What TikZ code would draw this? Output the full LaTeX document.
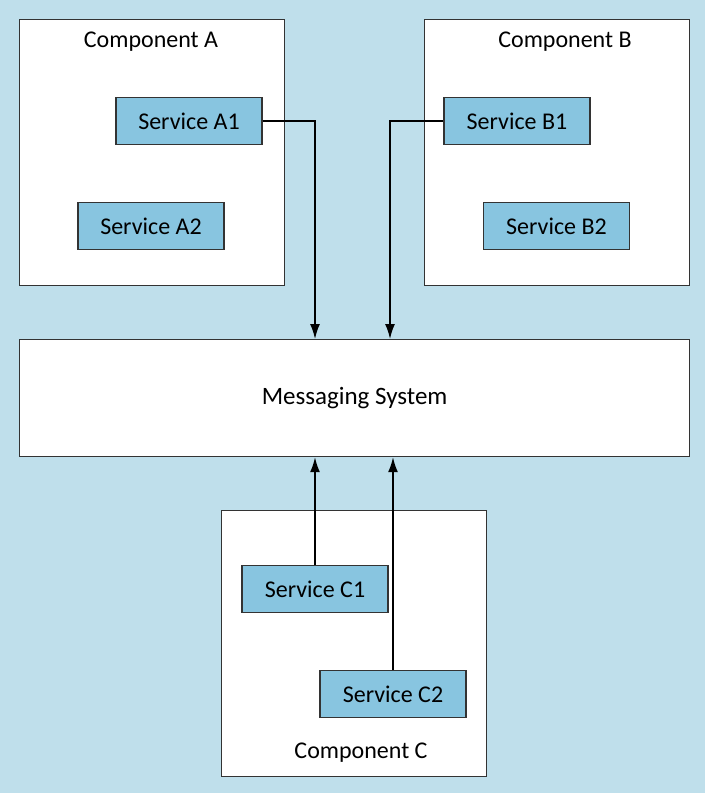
\documentclass[tikz,border=0pt]{standalone}
\usepackage{fontspec}
\setmainfont{Carlito}
\usetikzlibrary{arrows.meta}
\definecolor{bgblue}{HTML}{BFDFEB}
\definecolor{svcblue}{HTML}{88C5E0}
\definecolor{edge}{HTML}{333333}
\begin{document}
\begin{tikzpicture}[x=1pt,y=-1pt,
  box/.style={draw=edge,line width=1.2pt,fill=white,inner sep=0pt,anchor=north west},
  svc/.style={draw=edge,line width=1.2pt,fill=svcblue,anchor=center,minimum width=146pt,minimum height=47pt,inner sep=0pt,font=\fontsize{24}{28}\selectfont},
  title/.style={font=\fontsize{24}{28}\selectfont,inner sep=0pt},
  conn/.style={line width=1.6pt,-{Latex[length=15pt,width=10pt]}}]
\useasboundingbox[fill=bgblue] (0,0) rectangle (705,793);
\node[box,minimum width=265pt,minimum height=266pt] (compA) at (19,19) {};
\node[box,minimum width=265pt,minimum height=266pt] (compB) at (424,19) {};
\node[box,minimum width=670pt,minimum height=117pt,font=\fontsize{25}{29}\selectfont] (msg) at (19,339) {Messaging System};
\node[box,minimum width=265pt,minimum height=266pt] (compC) at (221,510) {};
\node[title] (tA) at (151,42) {Component A};
\node[title] (tB) at (565,42) {Component B};
\node[title] (tC) at (361,753) {Component C};
\node[svc] (a1) at (189,121) {Service A1};
\node[svc] (a2) at (151,226) {Service A2};
\node[svc] (b1) at (517,121) {Service B1};
\node[svc] (b2) at (556.5,226) {Service B2};
\node[svc] (c1) at (315,589) {Service C1};
\node[svc] (c2) at (393,694) {Service C2};
\draw[conn] (a1.east) -| (msg.north -| 315,0);
\draw[conn] (b1.west) -| (msg.north -| 390,0);
\draw[conn] (c1.north) -- (msg.south -| c1.north);
\draw[conn] (c2.north) -- (msg.south -| c2.north);
\end{tikzpicture}
\end{document}
